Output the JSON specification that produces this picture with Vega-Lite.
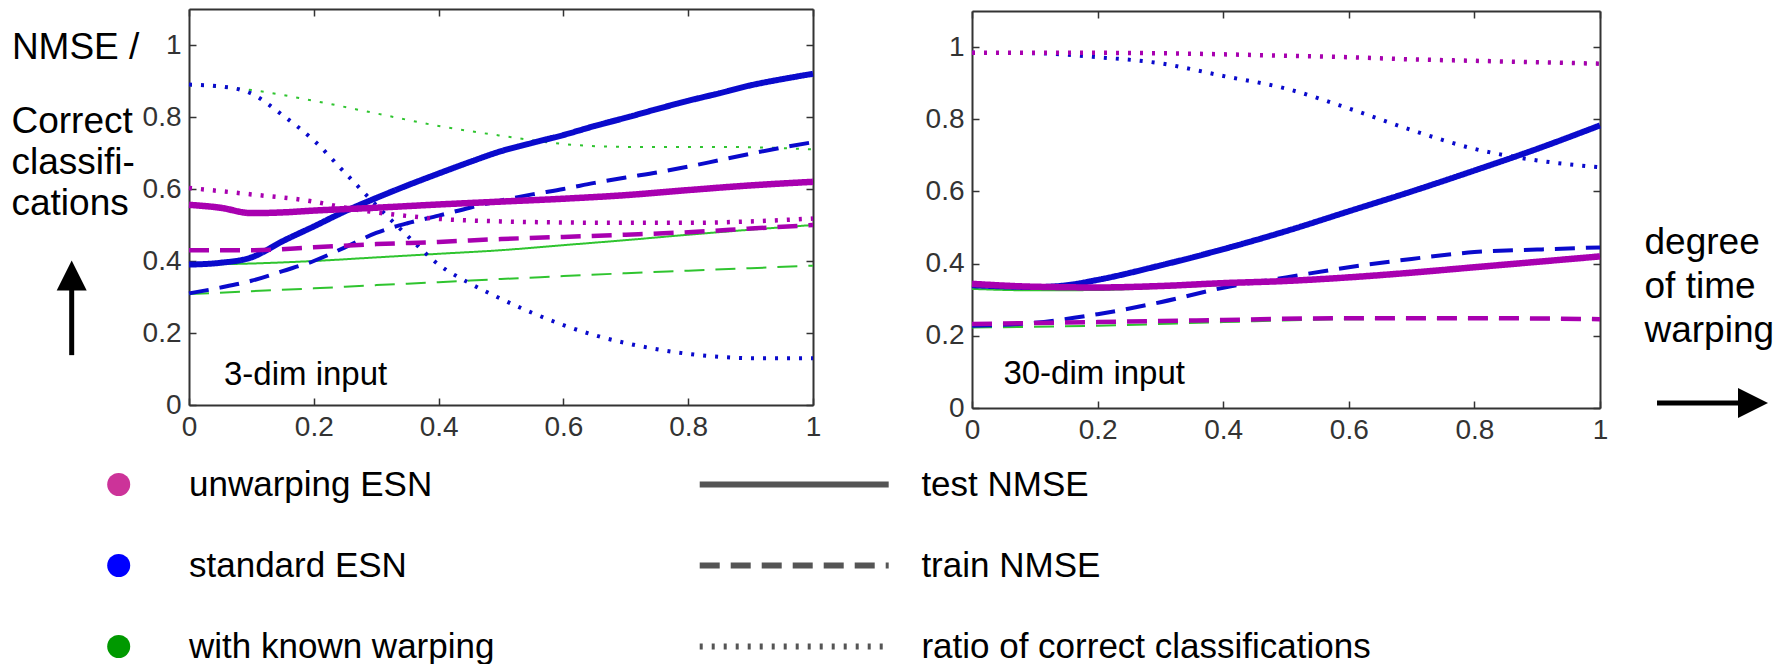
{
  "$schema": "https://vega.github.io/schema/vega-lite/v6.json",
  "width": 1785,
  "height": 664,
  "padding": 0,
  "autosize": {"type": "none"},
  "background": "white",
  "config": {
    "view": {"stroke": null},
    "font": "Liberation Sans",
    "axis": {
      "grid": false, "domainColor": "#333333", "domainWidth": 2, "tickColor": "#333333", "tickWidth": 1.5, "tickSize": -7,
      "labelFont": "Liberation Sans", "labelFontSize": 28, "labelColor": "#333333", "labelPadding": 15, "labelFlush": false, "labelOverlap": false,
      "titleFont": "Liberation Sans", "titleFontSize": 37, "titleFontWeight": "normal", "titleColor": "black", "titleAngle": 0,
      "titleAlign": "left", "titleBaseline": "alphabetic", "titleLineHeight": 41, "titlePadding": 0
    },
    "legend": {"labelFont": "Liberation Sans", "labelFontSize": 35, "labelColor": "black", "labelLimit": 0, "padding": 0}
  },
  "datasets": {
    "series": [
      {"p": 1, "m": "with known warping", "t": "test NMSE", "x": [0,0.1,0.2,0.3,0.4,0.5,0.6,0.7,0.8,0.9,1], "y": [0.39,0.393,0.4,0.41,0.42,0.43,0.444,0.458,0.473,0.487,0.5]},
      {"p": 1, "m": "with known warping", "t": "train NMSE", "x": [0,0.1,0.2,0.3,0.4,0.5,0.6,0.7,0.8,0.9,1], "y": [0.308,0.316,0.324,0.333,0.341,0.35,0.358,0.366,0.373,0.38,0.387]},
      {"p": 1, "m": "with known warping", "t": "ratio of correct classifications", "x": [0,0.1,0.2,0.3,0.4,0.5,0.6,0.7,0.8,0.9,1], "y": [0.888,0.875,0.845,0.81,0.775,0.748,0.725,0.717,0.717,0.716,0.71]},
      {"p": 1, "m": "standard ESN", "t": "test NMSE", "x": [0,0.05,0.1,0.15,0.2,0.25,0.3,0.35,0.4,0.45,0.5,0.55,0.6,0.65,0.7,0.75,0.8,0.85,0.9,0.95,1], "y": [0.39,0.395,0.41,0.455,0.496,0.538,0.575,0.61,0.643,0.675,0.705,0.728,0.75,0.775,0.798,0.822,0.845,0.866,0.888,0.905,0.92]},
      {"p": 1, "m": "standard ESN", "t": "train NMSE", "x": [0,0.05,0.1,0.15,0.2,0.25,0.3,0.35,0.4,0.45,0.5,0.55,0.6,0.65,0.7,0.75,0.8,0.85,0.9,0.95,1], "y": [0.31,0.326,0.345,0.372,0.4,0.438,0.478,0.505,0.526,0.548,0.568,0.585,0.6,0.617,0.632,0.646,0.662,0.68,0.698,0.715,0.73]},
      {"p": 1, "m": "standard ESN", "t": "ratio of correct classifications", "x": [0,0.05,0.1,0.15,0.2,0.25,0.3,0.35,0.4,0.45,0.5,0.55,0.6,0.65,0.7,0.75,0.8,0.85,0.9,0.95,1], "y": [0.89,0.885,0.865,0.805,0.735,0.645,0.555,0.47,0.39,0.338,0.295,0.256,0.222,0.194,0.172,0.155,0.142,0.134,0.13,0.13,0.13]},
      {"p": 1, "m": "unwarping ESN", "t": "test NMSE", "x": [0,0.05,0.1,0.15,0.2,0.3,0.4,0.5,0.6,0.7,0.8,0.9,1], "y": [0.556,0.548,0.533,0.535,0.54,0.548,0.557,0.565,0.573,0.583,0.597,0.61,0.62]},
      {"p": 1, "m": "unwarping ESN", "t": "train NMSE", "x": [0,0.1,0.2,0.3,0.4,0.5,0.6,0.7,0.8,0.9,1], "y": [0.43,0.43,0.438,0.447,0.453,0.461,0.467,0.473,0.48,0.49,0.5]},
      {"p": 1, "m": "unwarping ESN", "t": "ratio of correct classifications", "x": [0,0.1,0.2,0.25,0.3,0.35,0.4,0.5,0.6,0.7,0.8,0.9,1], "y": [0.603,0.585,0.565,0.548,0.535,0.525,0.517,0.51,0.507,0.506,0.506,0.51,0.518]},
      {"p": 2, "m": "with known warping", "t": "test NMSE", "x": [0,0.1,0.2,0.3,0.4,0.5,0.6,0.7,0.8,0.9,1], "y": [0.33,0.326,0.327,0.333,0.341,0.35,0.36,0.373,0.388,0.403,0.418]},
      {"p": 2, "m": "with known warping", "t": "train NMSE", "x": [0,0.2,0.4,0.6,0.8,1], "y": [0.223,0.228,0.238,0.246,0.247,0.245]},
      {"p": 2, "m": "with known warping", "t": "ratio of correct classifications", "x": [0,0.2,0.4,0.6,0.8,1], "y": [0.984,0.984,0.98,0.972,0.962,0.954]},
      {"p": 2, "m": "standard ESN", "t": "test NMSE", "x": [0,0.05,0.1,0.15,0.2,0.3,0.4,0.5,0.6,0.7,0.8,0.9,1], "y": [0.34,0.337,0.335,0.34,0.355,0.395,0.44,0.49,0.545,0.6,0.658,0.718,0.783]},
      {"p": 2, "m": "standard ESN", "t": "train NMSE", "x": [0,0.1,0.2,0.3,0.4,0.5,0.6,0.7,0.8,0.9,1], "y": [0.228,0.236,0.26,0.293,0.333,0.362,0.39,0.413,0.432,0.439,0.445]},
      {"p": 2, "m": "standard ESN", "t": "ratio of correct classifications", "x": [0,0.1,0.2,0.3,0.4,0.5,0.6,0.7,0.8,0.9,1], "y": [0.984,0.983,0.972,0.955,0.92,0.885,0.83,0.77,0.718,0.686,0.667]},
      {"p": 2, "m": "unwarping ESN", "t": "test NMSE", "x": [0,0.1,0.2,0.3,0.4,0.5,0.6,0.7,0.8,0.9,1], "y": [0.344,0.336,0.334,0.338,0.346,0.352,0.362,0.375,0.39,0.405,0.42]},
      {"p": 2, "m": "unwarping ESN", "t": "train NMSE", "x": [0,0.2,0.4,0.6,0.8,1], "y": [0.233,0.238,0.244,0.249,0.249,0.246]},
      {"p": 2, "m": "unwarping ESN", "t": "ratio of correct classifications", "x": [0,0.1,0.2,0.3,0.4,0.5,0.6,0.7,0.8,0.9,1], "y": [0.984,0.984,0.984,0.983,0.98,0.976,0.972,0.966,0.962,0.958,0.954]}
    ]
  },
  "layer": [
    {
      "layer": [
        {
          "layer": [
            {
              "data": {"name": "series"},
              "transform": [{"flatten": ["x", "y"]}, {"filter": "datum.p == 1"}],
              "encoding": {
                "x": {"field": "x", "type": "quantitative", "scale": {"domain": [0, 1], "range": [189, 813], "nice": false, "zero": false},
                      "axis": {"orient": "bottom", "offset": -259, "values": [0, 0.2, 0.4, 0.6, 0.8, 1], "format": "~g", "title": null}},
                "y": {"field": "y", "type": "quantitative", "scale": {"domain": [0, 1.1], "range": [405, 9], "nice": false, "zero": false},
                      "axis": {"orient": "left", "offset": -189, "values": [0, 0.2, 0.4, 0.6, 0.8, 1], "format": "~g",
                               "title": ["Correct", "classifi-", "cations"], "titleX": -178, "titleY": 132}},
                "color": {"field": "m", "type": "nominal",
                  "scale": {"domain": ["unwarping ESN", "standard ESN", "with known warping"], "range": ["#a800b0", "#0a0acc", "#2fc42f"]},
                  "legend": {"orient": "none", "legendX": 101.2, "legendY": 467, "title": null, "symbolType": "circle", "symbolSize": 529,
                    "symbolStrokeWidth": 0, "labelOffset": 52.8, "rowPadding": 45,
                    "encode": {"symbols": {"update": {"fill": {"signal": "datum.value == 'unwarping ESN' ? '#cc3399' : datum.value == 'standard ESN' ? '#0000ff' : '#009900'"}, "opacity": {"value": 1}}}}}},
                "strokeDash": {"field": "t", "type": "nominal",
                  "scale": {"domain": ["test NMSE", "train NMSE", "ratio of correct classifications"], "range": [[1, 0], [20, 11], [3, 9]]},
                  "legend": {"orient": "none", "legendX": 776.7, "legendY": 467, "title": null, "symbolType": "M-8,0H8", "symbolSize": 558,
                    "symbolStrokeWidth": 6, "symbolStrokeColor": "#555555", "labelOffset": 109.7, "rowPadding": 45,
                    "encode": {"symbols": {"update": {"stroke": {"value": "#555555"}, "strokeWidth": {"value": 6}, "opacity": {"value": 1},
                      "strokeDash": {"signal": "datum.value == 'train NMSE' ? [25, 13] : datum.value == 'test NMSE' ? [1, 0] : [2, 2]"}}}}}}
              },
              "layer": [
                {"transform": [{"filter": "datum.m == 'with known warping'"}], "mark": {"type": "line", "strokeWidth": 2, "interpolate": "monotone"}},
                {"transform": [{"filter": "datum.m == 'standard ESN' && datum.t != 'test NMSE'"}], "mark": {"type": "line", "strokeWidth": 4, "interpolate": "monotone"}},
                {"transform": [{"filter": "datum.m == 'standard ESN' && datum.t == 'test NMSE'"}], "mark": {"type": "line", "strokeWidth": 6, "interpolate": "monotone"}},
                {"transform": [{"filter": "datum.m == 'unwarping ESN' && datum.t != 'test NMSE'"}], "mark": {"type": "line", "strokeWidth": 4.5, "interpolate": "monotone"}},
                {"transform": [{"filter": "datum.m == 'unwarping ESN' && datum.t == 'test NMSE'"}], "mark": {"type": "line", "strokeWidth": 6.5, "interpolate": "monotone"}}
              ]
            },
            {
              "data": {"values": [{"label": "3-dim input"}]},
              "mark": {"type": "text", "align": "left", "baseline": "alphabetic", "fontSize": 33, "font": "Liberation Sans", "color": "black"},
              "encoding": {"text": {"field": "label"}, "x": {"datum": 0.056, "type": "quantitative"}, "y": {"datum": 0.056, "type": "quantitative"}}
            },
            {
              "data": {"values": [{"arrow": "up"}]},
              "mark": {"type": "rule", "strokeWidth": 5, "color": "black"},
              "encoding": {"x": {"datum": -0.188, "type": "quantitative"}, "y": {"datum": 0.1385, "type": "quantitative"}, "y2": {"datum": 0.33}}
            },
            {
              "data": {"values": [{"arrow": "up"}]},
              "mark": {"type": "point", "shape": "M0,-1L-1,1L1,1Z", "size": 900, "filled": true, "color": "black", "opacity": 1, "strokeWidth": 0},
              "encoding": {"x": {"datum": -0.188, "type": "quantitative"}, "y": {"datum": 0.36, "type": "quantitative"}}
            }
          ]
        },
        {
          "data": {"name": "series"},
          "transform": [{"flatten": ["x", "y"]}, {"filter": "datum.p == 1"}],
          "mark": {"type": "point", "opacity": 0},
          "encoding": {
            "x": {"field": "x", "type": "quantitative", "axis": {"orient": "top", "offset": -9, "labels": false, "values": [0, 0.2, 0.4, 0.6, 0.8, 1], "title": "NMSE /", "titleX": 11.4, "titleY": 49}},
            "y": {"field": "y", "type": "quantitative", "axis": {"orient": "right", "offset": -972, "labels": false, "values": [0, 0.2, 0.4, 0.6, 0.8, 1], "title": null}}
          }
        }
      ],
      "resolve": {"axis": {"x": "independent", "y": "independent"}}
    },
    {
      "layer": [
        {
          "layer": [
            {
              "data": {"name": "series"},
              "transform": [{"flatten": ["x", "y"]}, {"filter": "datum.p == 2"}],
              "encoding": {
                "x": {"field": "x", "type": "quantitative", "scale": {"domain": [0, 1], "range": [972, 1600], "nice": false, "zero": false},
                      "axis": {"orient": "bottom", "offset": -256, "values": [0, 0.2, 0.4, 0.6, 0.8, 1], "format": "~g", "title": null}},
                "y": {"field": "y", "type": "quantitative", "scale": {"domain": [0, 1.1], "range": [408, 11], "nice": false, "zero": false},
                      "axis": {"orient": "left", "offset": -972, "values": [0, 0.2, 0.4, 0.6, 0.8, 1], "format": "~g", "title": null}},
                "color": {"field": "m", "type": "nominal"},
                "strokeDash": {"field": "t", "type": "nominal"}
              },
              "layer": [
                {"transform": [{"filter": "datum.m == 'with known warping'"}], "mark": {"type": "line", "strokeWidth": 2, "interpolate": "monotone"}},
                {"transform": [{"filter": "datum.m == 'standard ESN' && datum.t != 'test NMSE'"}], "mark": {"type": "line", "strokeWidth": 4, "interpolate": "monotone"}},
                {"transform": [{"filter": "datum.m == 'standard ESN' && datum.t == 'test NMSE'"}], "mark": {"type": "line", "strokeWidth": 6, "interpolate": "monotone"}},
                {"transform": [{"filter": "datum.m == 'unwarping ESN' && datum.t != 'test NMSE'"}], "mark": {"type": "line", "strokeWidth": 4.5, "interpolate": "monotone"}},
                {"transform": [{"filter": "datum.m == 'unwarping ESN' && datum.t == 'test NMSE'"}], "mark": {"type": "line", "strokeWidth": 6.5, "interpolate": "monotone"}}
              ]
            },
            {
              "data": {"values": [{"label": "30-dim input"}]},
              "mark": {"type": "text", "align": "left", "baseline": "alphabetic", "fontSize": 33, "font": "Liberation Sans", "color": "black"},
              "encoding": {"text": {"field": "label"}, "x": {"datum": 0.05, "type": "quantitative"}, "y": {"datum": 0.066, "type": "quantitative"}}
            },
            {
              "data": {"values": [{"arrow": "right"}]},
              "mark": {"type": "rule", "strokeWidth": 5, "color": "black"},
              "encoding": {"x": {"datum": 1.0908, "type": "quantitative"}, "x2": {"datum": 1.2261}, "y": {"datum": 0.0139, "type": "quantitative"}}
            },
            {
              "data": {"values": [{"arrow": "right"}]},
              "mark": {"type": "point", "shape": "M1,0L-1,-1L-1,1Z", "size": 900, "filled": true, "color": "black", "opacity": 1, "strokeWidth": 0},
              "encoding": {"x": {"datum": 1.2436, "type": "quantitative"}, "y": {"datum": 0.0139, "type": "quantitative"}}
            }
          ]
        },
        {
          "data": {"name": "series"},
          "transform": [{"flatten": ["x", "y"]}, {"filter": "datum.p == 2"}],
          "mark": {"type": "point", "opacity": 0},
          "encoding": {
            "x": {"field": "x", "type": "quantitative", "axis": {"orient": "top", "offset": -11, "labels": false, "values": [0, 0.2, 0.4, 0.6, 0.8, 1], "title": null}},
            "y": {"field": "y", "type": "quantitative", "axis": {"orient": "right", "offset": -185, "labels": false, "values": [0, 0.2, 0.4, 0.6, 0.8, 1],
                  "title": ["degree", "of time", "warping"], "titleX": 44, "titleY": 253, "titleLineHeight": 44}}
          }
        }
      ],
      "resolve": {"axis": {"x": "independent", "y": "independent"}}
    }
  ],
  "resolve": {"scale": {"x": "independent", "y": "independent"}}
}
